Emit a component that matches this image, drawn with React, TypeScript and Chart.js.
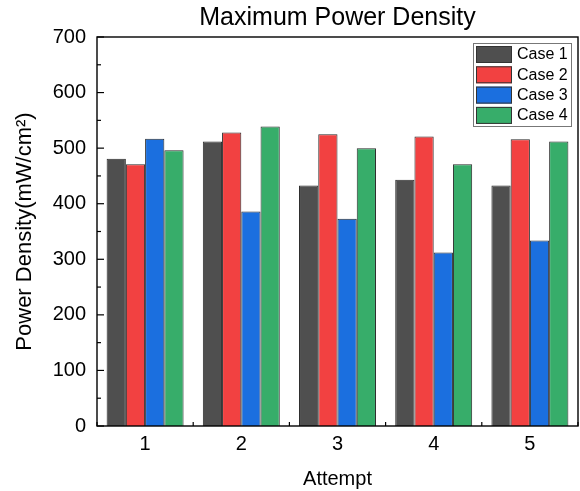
import React, { useEffect, useRef } from "react";
import { Chart, registerables } from "chart.js";

Chart.register(...registerables);

const categories = ["1", "2", "3", "4", "5"];
const seriesLabels = ["Case 1", "Case 2", "Case 3", "Case 4"];
const case1 = [481, 512, 433, 443, 433];
const case2 = [471, 528, 525, 521, 516];
const case3 = [517, 386, 373, 312, 334];
const case4 = [496, 539, 500, 471, 512];
const seriesColors = ["#4f4f4f", "#f24141", "#1b6fdf", "#37ad6a"];
const yMin = 0;
const yMax = 700;
const yStep = 100;
const yMinorStep = 50;

const FONT = "'Liberation Sans', Arial, sans-serif";

const boxTicksPlugin = {
  id: "boxTicks",
  afterDraw(chart: any) {
    const { ctx, chartArea, scales } = chart;
    const { left, right, top, bottom } = chartArea;
    const x = scales.x;
    const y = scales.y;
    ctx.save();
    ctx.strokeStyle = "#000";
    ctx.lineWidth = 1.4;
    ctx.strokeRect(left, top, right - left, bottom - top);
    ctx.lineWidth = 1.2;
    for (let v = yMin; v <= yMax; v += yMinorStep) {
      const py = y.getPixelForValue(v);
      const len = v % yStep === 0 ? 7 : 4;
      ctx.beginPath();
      ctx.moveTo(left, py);
      ctx.lineTo(left + len, py);
      ctx.stroke();
    }
    for (let i = 0; i <= categories.length; i++) {
      const px = x.getPixelForValue(i - 0.5);
      ctx.beginPath();
      ctx.moveTo(px, bottom);
      ctx.lineTo(px, bottom - 4);
      ctx.stroke();
    }
    ctx.restore();
  },
};

const insideLegendPlugin = {
  id: "insideLegend",
  afterDraw(chart: any) {
    const { ctx } = chart;
    const bx = 473;
    const by = 43;
    const bw = 98;
    const bh = 83;
    ctx.save();
    ctx.fillStyle = "#fff";
    ctx.fillRect(bx, by, bw, bh);
    ctx.strokeStyle = "#777";
    ctx.lineWidth = 1;
    ctx.strokeRect(bx + 0.5, by + 0.5, bw, bh);
    ctx.font = "16px " + FONT;
    ctx.textBaseline = "middle";
    ctx.textAlign = "left";
    chart.data.datasets.forEach((ds: any, i: number) => {
      const ry = by + 3 + i * 20.3;
      ctx.fillStyle = ds.backgroundColor;
      ctx.fillRect(bx + 3, ry, 36, 17);
      ctx.strokeStyle = "#333";
      ctx.lineWidth = 1;
      ctx.strokeRect(bx + 3.5, ry + 0.5, 35, 16);
      ctx.fillStyle = "#000";
      ctx.fillText(ds.label, bx + 44, ry + 9);
    });
    ctx.restore();
  },
};

export default function App() {
  const ref = useRef<HTMLCanvasElement | null>(null);

  useEffect(() => {
    document.body.style.margin = "0";
    if (!ref.current) return;
    const values = [case1, case2, case3, case4];
    const chart = new Chart(ref.current, {
      type: "bar",
      data: {
        labels: categories,
        datasets: seriesLabels.map((label, i) => ({
          label,
          data: values[i],
          backgroundColor: seriesColors[i],
          borderColor: "#2a2a2a",
          borderWidth: 1,
          categoryPercentage: 0.8,
          barPercentage: 1.0,
        })),
      },
      options: {
        animation: false,
        responsive: true,
        maintainAspectRatio: false,
        layout: { padding: { left: 0, right: 2, top: 0, bottom: 0 } },
        plugins: {
          legend: { display: false },
          tooltip: { enabled: false },
          title: {
            display: true,
            text: "Maximum Power Density",
            color: "#000",
            fullSize: false,
            font: { family: FONT, size: 25, weight: "normal" },
            padding: { top: 3, bottom: 4 },
          },
        },
        scales: {
          x: {
            type: "category",
            grid: { display: false, drawTicks: false },
            border: { display: false },
            ticks: {
              color: "#000",
              font: { family: FONT, size: 20 },
              padding: 6,
            },
            title: {
              display: true,
              text: "Attempt",
              color: "#000",
              font: { family: FONT, size: 20 },
              padding: { top: 0, bottom: 0 },
            },
            afterFit(scale: any) {
              scale.height = 65;
            },
          },
          y: {
            min: yMin,
            max: yMax,
            grid: { display: false, drawTicks: false },
            border: { display: false },
            ticks: {
              stepSize: yStep,
              color: "#000",
              font: { family: FONT, size: 20 },
              padding: 11,
            },
            title: {
              display: true,
              text: "Power Density(mW/cm²)",
              color: "#000",
              font: { family: FONT, size: 22 },
              padding: { top: 12, bottom: 0 },
            },
            afterFit(scale: any) {
              scale.width = 97;
            },
          },
        },
      },
      plugins: [boxTicksPlugin, insideLegendPlugin],
    });
    return () => chart.destroy();
  }, []);

  return (
    <div style={{ width: 580, height: 491, position: "relative" }}>
      <canvas ref={ref} />
    </div>
  );
}
